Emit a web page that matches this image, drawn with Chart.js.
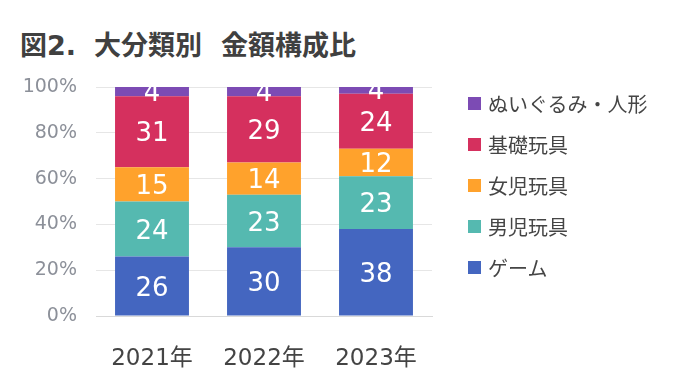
<!DOCTYPE html>
<html lang="ja">
<head>
<meta charset="utf-8">
<script src="https://cdn.jsdelivr.net/npm/chart.js@4/dist/chart.umd.min.js"></script>
<style>
  html, body { margin: 0; padding: 0; background: #fff; }
  #wrap { position: relative; width: 700px; height: 378px; overflow: hidden; font-family: "DejaVu Sans", "Noto Sans CJK JP", sans-serif; }
  .t { position: absolute; top: 29px; font-size: 27px; font-weight: bold; color: #404040; white-space: pre; font-family: "DejaVu Sans", "Noto Sans CJK JP", sans-serif; line-height: 34px; }
  #chart { position: absolute; left: 0; top: 0; }
  #legend { position: absolute; left: 468px; top: 83px; }
  .item { height: 41px; display: flex; align-items: center; font-size: 20px; color: #454545; font-family: "Noto Sans CJK JP", sans-serif; }
  .box { width: 13px; height: 13px; margin-right: 7px; }
</style>
</head>
<body>
<div id="wrap">
  <div class="t" style="left:20px">図2.</div>
  <div class="t" style="left:94px">大分類別</div>
  <div class="t" style="left:221px">金額構成比</div>
  <canvas id="chart" width="700" height="378"></canvas>
  <div id="legend"></div>
</div>
<script>
// 年別カテゴリ
const years = ["2021年", "2022年", "2023年"];
// 大分類ごとの金額構成比（%）
const game   = [26, 30, 38];
const boys   = [24, 23, 23];
const girls  = [15, 14, 12];
const basic  = [31, 29, 24];
const plush  = [4, 4, 4];
const yTicks = [0, 20, 40, 60, 80, 100];

const series = [
  { label: "ゲーム", data: game, color: "#4466c0" },
  { label: "男児玩具", data: boys, color: "#55b9b0" },
  { label: "女児玩具", data: girls, color: "#ffa22c" },
  { label: "基礎玩具", data: basic, color: "#d5305e" },
  { label: "ぬいぐるみ・人形", data: plush, color: "#7c4bb4" }
];

const FONT = '"DejaVu Sans", "Noto Sans CJK JP", sans-serif';

// 各セグメントの中央に値を描く
const valueLabels = {
  id: "valueLabels",
  afterDatasetsDraw(chart) {
    const ctx = chart.ctx;
    ctx.save();
    ctx.fillStyle = "#fff";
    ctx.font = "26px " + FONT;
    ctx.textAlign = "center";
    ctx.textBaseline = "middle";
    chart.data.datasets.forEach((ds, i) => {
      chart.getDatasetMeta(i).data.forEach((bar, j) => {
        const mid = (bar.y + bar.base) / 2;
        ctx.fillText(String(ds.data[j]), bar.x, mid + 3);
      });
    });
    ctx.restore();
  }
};

const chart = new Chart(document.getElementById("chart"), {
  type: "bar",
  data: {
    labels: years,
    datasets: series.map(s => ({
      label: s.label,
      data: s.data,
      backgroundColor: s.color,
      borderWidth: 0,
      categoryPercentage: 1,
      barPercentage: 0.66
    }))
  },
  options: {
    responsive: false,
    animation: false,
    layout: { padding: { top: 87, right: 268, bottom: 0, left: 0 } },
    plugins: { legend: { display: false }, tooltip: { enabled: false } },
    scales: {
      x: {
        stacked: true,
        grid: { display: false },
        border: { display: true, color: "#d9d9d9", width: 1 },
        ticks: { color: "#444", font: { family: FONT, size: 23 }, padding: 21 },
        afterFit(scale) { scale.height = 62; }
      },
      y: {
        stacked: true,
        min: 0,
        max: 100,
        afterBuildTicks(scale) { scale.ticks = yTicks.map(v => ({ value: v })); },
        grid: { color: "#e6e6e6", drawTicks: false },
        border: { display: false },
        ticks: {
          color: "#8c9099",
          font: { family: FONT, size: 19 },
          padding: 19,
          callback: v => v + "%"
        },
        afterFit(scale) { scale.width = 96; }
      }
    }
  },
  plugins: [valueLabels]
});

// 凡例（上から逆順）
const legend = document.getElementById("legend");
series.slice().reverse().forEach(s => {
  const item = document.createElement("div");
  item.className = "item";
  const box = document.createElement("span");
  box.className = "box";
  box.style.background = s.color;
  const txt = document.createElement("span");
  txt.textContent = s.label;
  item.appendChild(box);
  item.appendChild(txt);
  legend.appendChild(item);
});
</script>
</body>
</html>
